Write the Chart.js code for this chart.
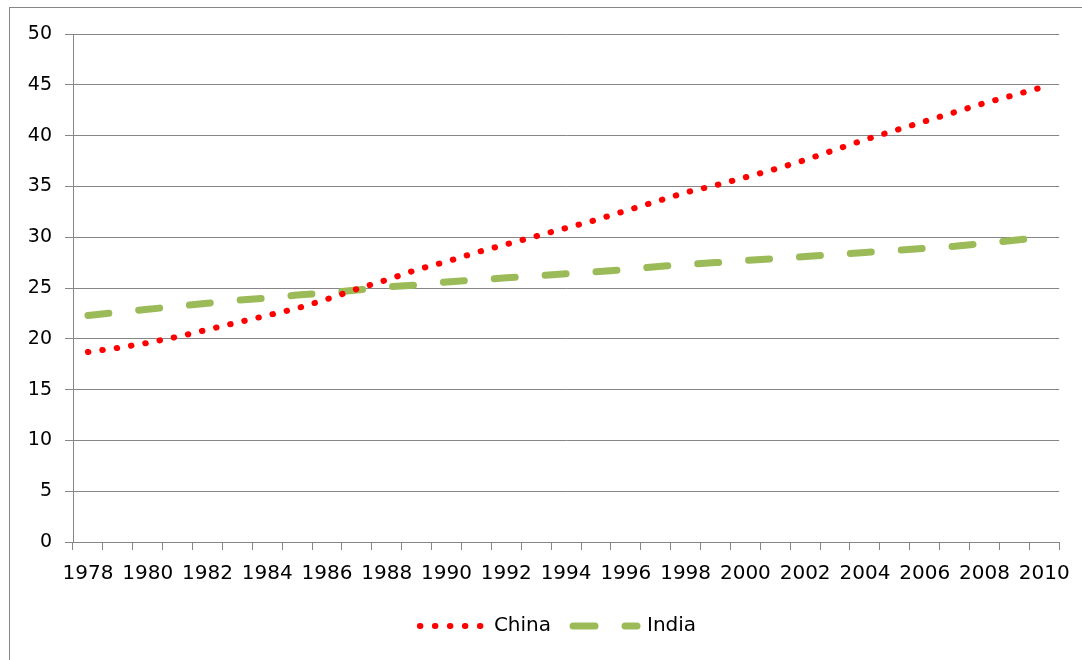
<!DOCTYPE html>
<html>
<head>
<meta charset="utf-8">
<script src="https://cdn.jsdelivr.net/npm/chart.js@4/dist/chart.umd.min.js"></script>
<style>
    html, body { margin: 0; padding: 0; background: #fff; overflow: hidden; }
    #wrap { position: relative; width: 1082px; height: 660px; }
    #frame { position: absolute; left: 9px; top: 7px; width: 1200px; height: 800px; border: 1px solid #868686; box-sizing: border-box; }
    #myChart { position: absolute; left: 0; top: 0; }
</style>
</head>
<body>
<div id="wrap">
    <div id="frame"></div>
    <canvas id="myChart" width="1082" height="660"></canvas>
</div>
<script>
// years on the category axis
const years = [];
for (let y = 1978; y <= 2010; y++) years.push(String(y));

// China (red dotted)
const china = [18.7, 19.1, 19.6, 20.2, 20.9, 21.6, 22.3, 23.0, 23.9, 24.9, 25.8,
    26.8, 27.6, 28.5, 29.3, 30.1, 30.9, 31.7, 32.6, 33.5, 34.4, 35.1,
    35.9, 36.7, 37.6, 38.6, 39.6, 40.5, 41.4, 42.3, 43.2, 44.0, 44.8];

// India (green dashed)
const india = [22.3, 22.6, 22.9, 23.2, 23.5, 23.8, 24.0, 24.3, 24.5, 24.8, 25.1,
    25.3, 25.6, 25.8, 26.0, 26.2, 26.4, 26.6, 26.8, 27.1, 27.3, 27.5,
    27.7, 27.9, 28.1, 28.3, 28.5, 28.7, 28.9, 29.1, 29.4, 29.7, 30.0];

const gridColor = '#868686';
const fontFamily = "'DejaVu Sans', sans-serif";

// legend sits a bit right of the canvas centre in the original
const legendShift = {
    id: 'legendShift',
    afterLayout(chart) {
        const lg = chart.legend;
        if (!lg) return;
        const dx = 558 - (lg.left + lg.right) / 2;
        lg.left += dx;
        lg.right += dx;
    }
};

const ctx = document.getElementById('myChart').getContext('2d');
new Chart(ctx, {
    type: 'line',
    data: {
        labels: years,
        datasets: [{
            label: 'China',
            data: china,
            borderColor: '#ff0000',
            backgroundColor: '#ff0000',
            borderWidth: 6,
            borderDash: [0.5, 14],
            borderCapStyle: 'round',
            pointRadius: 0,
            tension: 0,
            fill: false
        }, {
            label: 'India',
            data: india,
            borderColor: '#9bbb59',
            backgroundColor: '#9bbb59',
            borderWidth: 7,
            borderDash: [21, 30],
            borderCapStyle: 'round',
            pointRadius: 0,
            tension: 0,
            fill: false
        }]
    },
    plugins: [legendShift],
    options: {
        responsive: false,
        animation: false,
        layout: { padding: { top: 34, right: 22, left: 0, bottom: 14 } },
        plugins: {
            tooltip: { enabled: false },
            legend: {
                position: 'bottom',
                labels: {
                    usePointStyle: true,
                    pointStyle: 'line',
                    pointStyleWidth: 64,
                    padding: 22,
                    color: '#000',
                    font: { family: fontFamily, size: 20 },
                    generateLabels: (chart) => {
                        const items = Chart.defaults.plugins.legend.labels.generateLabels(chart);
                        items[0].lineDash = [0.5, 14.5];
                        items[0].lineWidth = 6;
                        items[1].lineDash = [22, 30];
                        items[1].lineWidth = 7;
                        items.forEach(it => { it.lineCap = 'round'; });
                        return items;
                    }
                }
            }
        },
        scales: {
            x: {
                offset: true,
                afterFit: (s) => { s.height = 52; },
                grid: {
                    offset: true,
                    drawOnChartArea: false,
                    color: gridColor,
                    tickLength: 8,
                    tickColor: gridColor
                },
                border: { color: gridColor },
                ticks: {
                    autoSkip: false,
                    maxRotation: 0,
                    minRotation: 0,
                    padding: 12,
                    color: '#000',
                    font: { family: fontFamily, size: 20 },
                    callback: function (value, index) {
                        return index % 2 === 0 ? this.getLabelForValue(value) : '';
                    }
                }
            },
            y: {
                min: 0,
                max: 50,
                afterFit: (s) => { s.width = 73; },
                grid: {
                    color: gridColor,
                    tickLength: 8,
                    tickColor: gridColor
                },
                border: { color: gridColor },
                ticks: {
                    stepSize: 5,
                    padding: 13,
                    color: '#000',
                    font: { family: fontFamily, size: 19 }
                }
            }
        }
    }
});
</script>
</body>
</html>
